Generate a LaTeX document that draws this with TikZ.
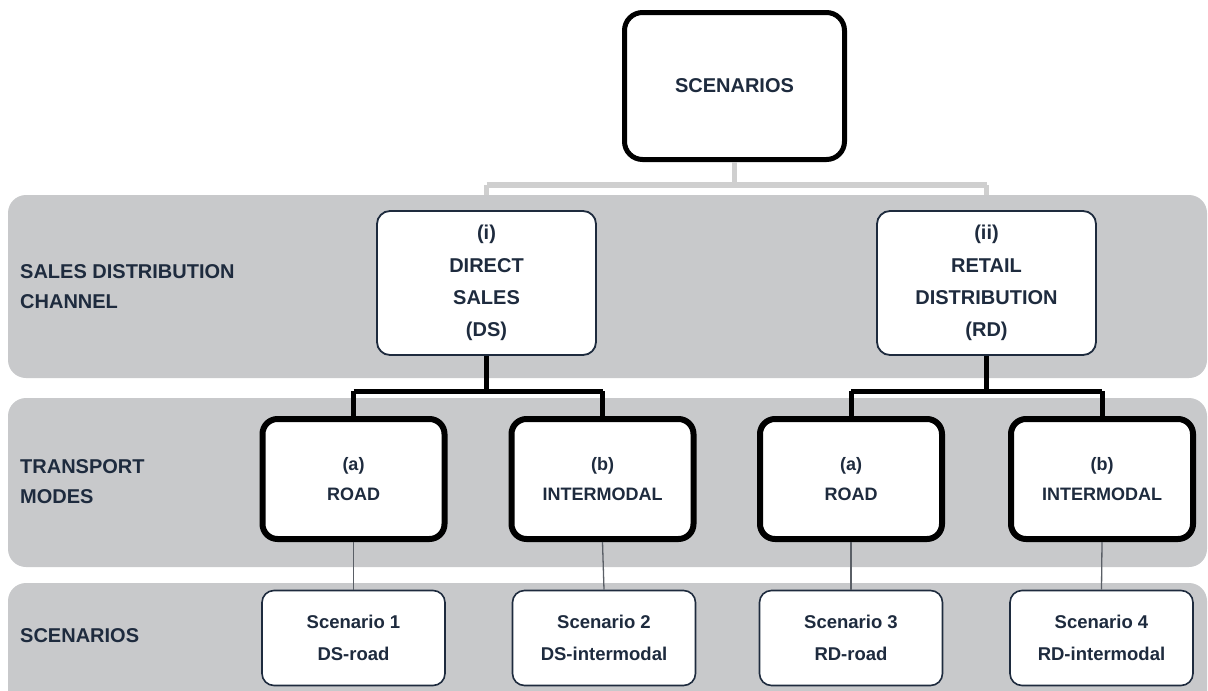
\documentclass[tikz,border=0pt]{standalone}
\usepackage{fontspec}
\setmainfont{Liberation Sans}
\definecolor{navy}{HTML}{1E2B3E}
\definecolor{band}{HTML}{C8C9CB}
\definecolor{topline}{HTML}{CFCFCF}
\definecolor{thinline}{HTML}{5A5F66}
\begin{document}
\begin{tikzpicture}[x=1pt,y=-1pt,
  lbl/.style={text=navy,font=\bfseries\fontsize{20}{30}\selectfont,align=left,anchor=west,inner sep=0pt},
  topbox/.style={draw=black,line width=5pt,rounded corners=18pt,fill=white,minimum width=220pt,minimum height=147pt,text=navy,font=\bfseries\fontsize{20}{32}\selectfont,inner sep=0pt},
  chanbox/.style={draw=navy,line width=1.8pt,rounded corners=13pt,fill=white,minimum width=219pt,minimum height=144pt,text=navy,font=\bfseries\fontsize{20}{32.3}\selectfont,align=center,inner sep=0pt},
  modebox/.style={draw=black,line width=6pt,rounded corners=15pt,fill=white,minimum width=182pt,minimum height=120pt,text=navy,font=\bfseries\fontsize{18}{29.5}\selectfont,align=center,inner sep=0pt},
  scenbox/.style={draw=navy,line width=1.6pt,rounded corners=12pt,fill=white,minimum width=183pt,minimum height=95pt,text=navy,font=\bfseries\fontsize{18.5}{32}\selectfont,align=center,inner sep=0pt},
  blackconn/.style={draw=black,line width=5pt},
  greyconn/.style={draw=topline,line width=5.5pt},
  thinconn/.style={draw=thinline,line width=1.3pt}]
\useasboundingbox (0,0) rectangle (1208,691);
% bands
\fill[band,rounded corners=18pt] (8,195) rectangle (1207,378);
\fill[band,rounded corners=18pt] (8,398) rectangle (1207,567);
\fill[band,rounded corners=18pt] (8,583) rectangle (1207,720);
% left labels
\node[lbl] (l1) at (20,287) {SALES DISTRIBUTION\\CHANNEL};
\node[lbl] (l2) at (20,482) {TRANSPORT\\MODES};
\node[lbl] (l3) at (20,636) {SCENARIOS};
% coordinates
\coordinate (hg) at (0,185);
\coordinate (hb) at (0,391);
% top box
\node[topbox] (top) at (734.5,86) {SCENARIOS};
% channel boxes
\node[chanbox] (ds) at (486.5,283) {(i)\\DIRECT\\SALES\\(DS)};
\node[chanbox] (rd) at (986.5,283) {(ii)\\RETAIL\\DISTRIBUTION\\(RD)};
% mode boxes
\node[modebox] (r1) at (353.5,479) {(a)\\ROAD};
\node[modebox] (i1) at (602.5,479) {(b)\\INTERMODAL};
\node[modebox] (r2) at (851,479) {(a)\\ROAD};
\node[modebox] (i2) at (1102,479) {(b)\\INTERMODAL};
% scenario boxes
\node[scenbox] (s1) at (353.5,638) {Scenario 1\\DS-road};
\node[scenbox] (s2) at (604,638) {Scenario 2\\DS-intermodal};
\node[scenbox] (s3) at (851,638) {Scenario 3\\RD-road};
\node[scenbox] (s4) at (1101.5,638) {Scenario 4\\RD-intermodal};
% connectors
\begin{scope}[on background layer/.style={}]
\end{scope}
\draw[greyconn] (top.south) -- (top.south |- hg);
\draw[greyconn] (ds.north |- hg) -- (rd.north |- hg);
\draw[greyconn] (ds.north |- hg) -- (ds.north |- 0,195);
\draw[greyconn] (rd.north |- hg) -- (rd.north |- 0,195);
\draw[blackconn] (ds.south) -- (ds.south |- hb);
\draw[blackconn] (r1.north |- hb) -- (i1.north |- hb);
\draw[blackconn] (r1.north |- hb) -- (r1.north);
\draw[blackconn] (i1.north |- hb) -- (i1.north);
\draw[blackconn] (rd.south) -- (rd.south |- hb);
\draw[blackconn] (r2.north |- hb) -- (i2.north |- hb);
\draw[blackconn] (r2.north |- hb) -- (r2.north);
\draw[blackconn] (i2.north |- hb) -- (i2.north);
\draw[thinconn] (r1.south) -- (s1.north);
\draw[thinconn] (i1.south) -- (s2.north);
\draw[thinconn] (r2.south) -- (s3.north);
\draw[thinconn] (i2.south) -- (s4.north);
\end{tikzpicture}
\end{document}
